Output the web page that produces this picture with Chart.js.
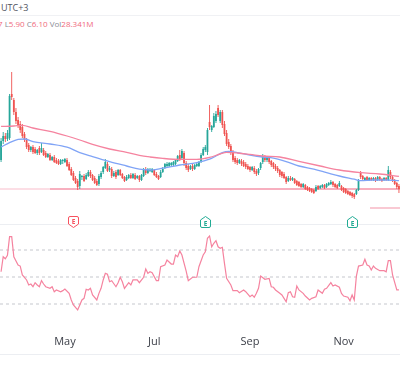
<!DOCTYPE html>
<html><head><meta charset="utf-8">
<script src="https://cdn.jsdelivr.net/npm/chart.js@4.4.1/dist/chart.umd.min.js"></script>
<style>
html,body{margin:0;padding:0;background:#fff;width:400px;height:374px;overflow:hidden;font-family:"Open Sans",Arial,sans-serif;}
#wrap{position:relative;width:400px;height:374px;overflow:hidden;}
.abs{position:absolute;}
#utc{left:1px;top:2px;font-size:9px;color:#50535e;line-height:12px;white-space:nowrap;}
#hdrLine{left:0;top:15px;width:400px;height:1px;background:#f0f1f4;}
#legend{left:-2px;top:18px;font-size:8px;line-height:11px;color:#8a8d96;white-space:nowrap;}
#legend .v{color:#f06a7c;}
#priceC{left:0;top:30px;}
#rsiC{left:0;top:224px;}
#sep{left:0;top:224px;width:400px;height:1px;background:#eceef2;}
#bottomLine{left:0;top:354px;width:400px;height:1px;background:#eceef2;}
.badge{position:absolute;width:11px;height:12px;top:211px;}
</style></head>
<body><div id="wrap">
<div id="utc" class="abs">UTC+3</div>
<div id="hdrLine" class="abs"></div>
<div id="legend" class="abs"></div>
<canvas id="priceC" class="abs" width="400" height="194"></canvas>
<canvas id="rsiC" class="abs" width="400" height="150"></canvas>
<div id="sep" class="abs"></div>
<div id="bottomLine" class="abs"></div>
<div id="badges"></div>
</div>
<script>
// ---- daily candles (price) ----
const opens = [7.55,8.50,8.75,8.60,8.65,10.85,10.55,9.95,9.55,9.35,
9.20,8.85,8.55,8.30,8.05,8.20,8.10,7.90,8.15,7.95,
8.05,7.90,7.70,7.80,7.55,7.70,7.55,7.50,7.35,7.50,
7.45,7.55,7.35,7.10,6.90,6.65,6.50,6.25,6.70,6.75,
6.60,6.75,6.95,6.80,6.65,6.50,6.35,6.70,6.95,7.15,
7.35,7.05,7.10,6.75,6.95,6.80,7.05,6.85,6.70,6.55,
6.65,6.80,6.65,6.80,6.65,6.75,6.55,6.75,7.10,6.90,
7.00,6.95,7.05,6.85,6.75,6.70,6.95,7.15,7.25,7.25,
7.30,7.30,7.35,7.50,7.80,7.65,7.90,7.40,7.25,7.10,
7.25,7.10,7.25,7.25,7.45,7.80,8.05,7.95,9.45,9.05,
9.20,9.50,10.15,9.50,9.95,9.35,8.90,8.45,8.25,7.95,
7.65,7.55,7.40,7.50,7.45,7.35,7.25,7.20,7.05,7.15,
7.00,6.90,7.15,7.45,7.70,7.55,7.65,7.50,7.40,7.25,
7.15,7.05,6.95,6.85,6.70,6.50,6.65,6.55,6.60,6.50,
6.45,6.35,6.20,6.30,6.20,6.15,6.10,6.05,6.00,6.25,
6.15,6.20,6.30,6.20,6.30,6.35,6.45,6.35,6.30,6.25,
6.25,6.15,6.10,6.00,5.95,5.90,5.85,5.85,6.05,6.90,
6.75,6.55,6.70,6.55,6.65,6.55,6.65,6.55,6.70,6.60,
6.55,6.65,6.55,6.95,6.70,6.55,6.40,6.25];
const highs = [8.65,8.95,8.90,9.05,10.85,11.95,10.65,10.15,9.70,9.50,
9.35,8.95,8.65,8.40,8.25,8.30,8.20,8.10,8.25,8.40,
8.15,8.00,7.90,7.90,7.75,7.80,7.65,7.60,7.60,7.60,
7.65,7.65,7.45,7.20,7.00,6.75,6.60,7.00,6.80,6.85,
6.90,7.05,7.05,6.85,6.75,6.60,6.85,7.00,7.25,7.60,
7.45,7.25,7.20,7.00,7.05,7.10,7.10,6.90,6.75,6.80,
6.85,6.90,6.90,6.90,6.80,6.80,6.85,7.15,7.20,7.15,
7.15,7.15,7.10,6.95,6.80,7.05,7.20,7.40,7.45,7.45,
7.45,7.50,7.60,7.80,8.05,8.10,8.00,7.50,7.35,7.30,
7.35,7.35,7.40,7.50,7.90,8.20,8.30,9.15,10.30,9.30,
9.90,10.00,10.30,10.05,10.05,9.50,9.05,8.60,8.35,8.05,
7.75,7.65,7.60,7.60,7.55,7.45,7.35,7.25,7.25,7.25,
7.10,7.15,7.45,7.85,7.80,7.75,7.75,7.55,7.45,7.35,
7.25,7.10,7.00,6.95,6.75,6.75,6.75,6.70,6.65,6.55,
6.50,6.40,6.40,6.35,6.25,6.20,6.15,6.10,6.30,6.30,
6.30,6.35,6.35,6.40,6.45,6.55,6.50,6.40,6.35,6.50,
6.30,6.20,6.15,6.05,6.00,5.95,5.90,6.10,6.60,7.00,
6.80,6.70,6.75,6.70,6.70,6.70,6.70,6.75,6.75,6.65,
6.70,6.70,7.25,7.05,6.75,6.60,6.45,6.35];
const lows = [7.45,8.35,8.45,8.50,8.55,10.55,9.80,9.35,9.15,8.90,
8.65,8.45,8.10,7.95,7.95,7.85,7.85,7.80,7.80,7.90,
7.75,7.65,7.65,7.50,7.50,7.40,7.35,7.30,7.30,7.35,
7.40,7.20,7.00,6.75,6.50,6.35,6.05,6.10,6.55,6.45,
6.55,6.70,6.65,6.50,6.35,6.25,6.25,6.60,6.85,7.10,
6.95,6.95,6.65,6.70,6.60,6.75,6.75,6.60,6.45,6.50,
6.60,6.60,6.60,6.55,6.60,6.45,6.50,6.70,6.80,6.85,
6.95,6.90,6.75,6.65,6.55,6.65,6.90,7.10,7.20,7.20,
7.25,7.25,7.30,7.45,7.50,7.60,7.25,7.05,6.95,7.05,
7.00,7.05,7.20,7.20,7.40,7.75,7.95,7.80,9.05,8.95,
9.15,9.40,9.70,9.40,9.15,8.75,8.25,8.10,7.80,7.45,
7.35,7.30,7.35,7.25,7.20,7.10,7.05,6.95,7.00,6.85,
6.75,6.80,7.05,7.35,7.45,7.45,7.35,7.20,7.10,7.00,
6.90,6.70,6.65,6.60,6.35,6.45,6.50,6.50,6.35,6.25,
6.20,6.15,6.15,6.05,6.00,5.95,5.90,5.85,5.95,6.05,
6.10,6.15,6.10,6.15,6.25,6.30,6.20,6.15,6.10,6.20,
6.00,5.90,5.85,5.80,5.75,5.65,5.60,5.80,6.00,6.60,
6.55,6.50,6.50,6.50,6.50,6.50,6.45,6.50,6.50,6.45,
6.50,6.50,6.50,6.60,6.45,6.30,6.10,5.90];
const closes = [8.50,8.75,8.60,8.90,10.75,10.70,9.95,9.50,9.25,9.05,
8.75,8.55,8.20,8.05,8.20,7.95,7.90,8.05,7.90,8.15,
7.80,7.70,7.85,7.55,7.70,7.45,7.40,7.35,7.55,7.55,
7.60,7.25,7.05,6.80,6.55,6.40,6.20,6.85,6.75,6.50,
6.80,6.95,6.75,6.55,6.40,6.30,6.75,6.90,7.20,7.45,
7.00,7.15,6.75,6.90,6.70,7.05,6.80,6.65,6.50,6.70,
6.80,6.65,6.85,6.60,6.75,6.55,6.80,7.05,6.90,7.10,
7.05,7.10,6.80,6.70,6.60,6.95,7.10,7.35,7.35,7.40,
7.40,7.45,7.55,7.75,7.60,8.00,7.40,7.15,7.05,7.25,
7.10,7.30,7.35,7.45,7.80,8.10,8.20,9.05,9.20,9.25,
9.75,9.85,9.80,9.95,9.30,8.85,8.35,8.20,7.90,7.55,
7.45,7.40,7.55,7.35,7.25,7.20,7.10,7.05,7.20,6.95,
6.85,7.10,7.40,7.75,7.55,7.65,7.45,7.30,7.20,7.10,
7.00,6.80,6.75,6.65,6.45,6.65,6.55,6.65,6.40,6.30,
6.25,6.20,6.35,6.10,6.05,6.00,5.95,5.90,6.20,6.10,
6.25,6.30,6.15,6.35,6.40,6.45,6.30,6.20,6.15,6.40,
6.05,5.95,5.90,5.85,5.80,5.75,5.70,6.05,6.55,6.70,
6.60,6.65,6.55,6.65,6.55,6.65,6.50,6.70,6.55,6.50,
6.65,6.55,7.05,6.70,6.55,6.35,6.20,6.10];
const lastVolume = '28.341M';

// ---- moving averages read at sampled days ----
const maSlowDay = [0,6,10,15,23,31,37,43,51,59,65,70,76,84,92,98,103,106,111,117,123,131,140,150,159,169,178,187];
const maSlow    = [9.23,9.25,9.28,9.15,8.98,8.75,8.55,8.33,8.10,7.93,7.78,7.70,7.63,7.58,7.58,7.68,7.85,7.93,7.90,7.83,7.75,7.70,7.48,7.25,7.05,6.92,6.85,6.73];
const maFastDay = [0,4,8,11,15,23,31,37,43,51,59,65,70,76,84,92,98,101,104,107,111,117,123,128,134,140,147,153,159,166,169,175,181,187];
const maFast    = [8.20,8.42,8.58,8.60,8.47,8.35,8.19,7.92,7.72,7.47,7.25,7.09,7.05,7.14,7.30,7.42,7.59,7.75,7.92,7.98,7.92,7.80,7.70,7.64,7.47,7.25,7.09,6.92,6.75,6.59,6.52,6.55,6.55,6.52];

// ---- horizontal levels ----
const levelPrice = [6.10, 5.15];
const levelFrom  = [23, 173.4];

// ---- earnings markers ----
const earnDay  = [34, 96, 165];
const earnType = ['down', 'up', 'up'];

// ---- RSI ----
const rsiDay = [0,1,2,3,4,5,6,8,9,10,12,13,14,15,16,17,18,19,20,21,23,24,25,26,28,29,30,32,33,34,36,37,38,39,40,41,42,43,45,46,47,48,49,50,51,52,54,55,56,57,58,60,61,62,64,65,67,68,69,70,71,73,74,75,77,78,80,81,82,83,84,85,87,88,90,92,93,95,96,97,98,99,100,101,102,103,104,105,106,108,109,111,112,114,115,117,118,119,120,121,122,124,126,127,128,129,131,132,133,134,135,136,137,138,139,140,142,143,145,146,148,149,151,152,153,155,156,157,159,160,161,163,164,165,166,167,168,170,171,172,173,174,175,176,178,180,181,182,183,184,186,187];
const rsiVal = [53.9,65.0,63.5,66.0,79.9,79.9,65.0,58.9,58.1,51.5,47.8,44.1,44.8,42.8,45.8,44.1,42.8,47.3,44.8,42.8,41.6,42.8,39.1,40.4,39.1,39.9,41.1,37.9,33.0,29.3,25.6,29.3,33.0,34.2,40.9,40.4,41.6,36.7,33.0,37.9,41.6,47.8,52.7,52.0,46.5,47.3,42.8,45.8,49.8,46.5,41.6,45.8,44.1,47.8,47.8,45.8,49.8,55.9,52.7,53.9,53.2,47.3,47.3,57.6,58.9,62.6,59.6,59.6,66.3,65.0,69.3,66.3,54.4,47.3,49.8,49.8,57.6,66.3,68.7,78.7,80.4,72.4,75.0,76.9,72.4,71.3,72.0,60.1,49.0,44.1,39.9,39.9,38.4,40.4,39.1,35.4,36.7,35.0,37.9,41.6,50.7,48.3,49.0,42.8,42.4,40.4,37.9,36.7,34.2,31.7,38.4,39.1,35.4,35.0,43.3,40.4,37.9,35.9,33.0,34.2,35.4,40.4,37.9,40.9,41.6,45.8,43.3,44.1,42.4,37.9,35.9,35.0,32.4,36.7,33.0,50.7,58.1,58.9,63.1,58.9,58.1,55.2,58.1,56.4,54.7,54.7,53.9,62.1,62.1,51.5,40.4,40.4];
const rsiBands = [70, 50, 30];

// ---- time axis ----
const monthDay    = [30, 72, 117, 161];
const monthLabels = ['May', 'Jul', 'Sep', 'Nov'];

// ---- view ranges ----
const N = closes.length;
const X_MIN = -0.5, X_MAX = N - 0.5;
const PRICE_MIN = 4.35, PRICE_MAX = 14.05;
const RSI_MIN = 8.52, RSI_MAX = 89.26;

const UP = '#26a69a', DOWN = '#ef5350';
const candleCol = closes.map((c, i) => c >= opens[i] ? UP : DOWN);
const bodies = closes.map((c, i) => ({x: i, y: [opens[i], c]}));
const wicks = closes.map((c, i) => ({x: i, y: [lows[i], highs[i]]}));
const pts = (xs, ys) => xs.map((x, k) => ({x: x, y: ys[k]}));

// legend text
const last = N - 1;
document.getElementById('legend').innerHTML =
  '<span class="v">7</span> L<span class="v">' + lows[last].toFixed(2) + '</span> C<span class="v">' +
  closes[last].toFixed(2) + '</span> Vol<span class="v">' + lastVolume + '</span>';

const levelSets = [];
levelSets.push({type:'line', data:[{x:X_MIN,y:levelPrice[0]},{x:levelFrom[0],y:levelPrice[0]}], borderColor:'#fbd3dc', borderWidth:1.5, pointRadius:0, order:3});
levelSets.push({type:'line', data:[{x:levelFrom[0],y:levelPrice[0]},{x:X_MAX,y:levelPrice[0]}], borderColor:'#f7afbf', borderWidth:2, pointRadius:0, order:3});
levelSets.push({type:'line', data:[{x:levelFrom[1],y:levelPrice[1]},{x:X_MAX,y:levelPrice[1]}], borderColor:'#f5a6b6', borderWidth:1.2, pointRadius:0, order:3});

const baseOpts = {
  responsive: false, animation: false, devicePixelRatio: 1,
  layout: {padding: 0},
  plugins: {legend: {display: false}, tooltip: {enabled: false}},
  events: []
};

const priceChart = new Chart(document.getElementById('priceC'), {
  type: 'bar',
  data: {datasets: [
    {type:'line', data: pts(maSlowDay, maSlow), borderColor:'#f5839f', borderWidth:1.3, pointRadius:0, cubicInterpolationMode:'monotone', order:0},
    {type:'line', data: pts(maFastDay, maFast), borderColor:'#80a4f6', borderWidth:1.3, pointRadius:0, cubicInterpolationMode:'monotone', order:0},
    {data: bodies, backgroundColor: candleCol, barThickness: 1.8, minBarLength: 1, grouped: false, inflateAmount: 0, borderWidth: 0, order: 1},
    {data: wicks, backgroundColor: candleCol, barThickness: 0.9, grouped: false, inflateAmount: 0, borderWidth: 0, order: 2},
    ...levelSets
  ]},
  options: Object.assign({}, baseOpts, {
    scales: {
      x: {type:'linear', min:X_MIN, max:X_MAX, offset:false, display:false},
      y: {min:PRICE_MIN, max:PRICE_MAX, display:false}
    }
  })
});

const rsiChart = new Chart(document.getElementById('rsiC'), {
  type: 'line',
  data: {datasets: [
    {data: pts(rsiDay, rsiVal), borderColor:'#f5839f', borderWidth:1.2, pointRadius:0, order:0},
    ...rsiBands.map(v => ({data:[{x:X_MIN,y:v},{x:X_MAX,y:v}], borderColor:'#c6c8cd', borderWidth:1, borderDash:[3,3], pointRadius:0, order:1}))
  ]},
  options: Object.assign({}, baseOpts, {
    scales: {
      x: {type:'linear', min:X_MIN, max:X_MAX, offset:false,
          grid:{display:false, drawTicks:false}, border:{display:false},
          ticks:{autoSkip:false, maxRotation:0, padding:2, color:'#3d4049', font:{family:'Open Sans', size:11},
                 callback:(v, i) => monthLabels[i]},
          afterBuildTicks: s => { s.ticks = monthDay.map(v => ({value: v})); },
          afterFit: s => { s.height = 41; }},
      y: {min:RSI_MIN, max:RSI_MAX, display:false}
    }
  })
});

// earnings badges
const badgeBox = document.getElementById('badges');
earnDay.forEach((d, k) => {
  const px = priceChart.scales.x.getPixelForValue(d);
  const up = earnType[k] === 'up';
  const c = up ? '#22ab94' : '#f7525f';
  const path = up
    ? 'M5.5 0.5 L10.5 4 V10 Q10.5 11.5 9 11.5 H2 Q0.5 11.5 0.5 10 V4 Z'
    : 'M2 0.5 H9 Q10.5 0.5 10.5 2 V8 L5.5 11.5 L0.5 8 V2 Q0.5 0.5 2 0.5 Z';
  const ty = up ? 9.6 : 7.6;
  const el = document.createElement('div');
  el.className = 'badge';
  el.style.left = (px - 5.5) + 'px';
  el.innerHTML = '<svg width="11" height="12" viewBox="0 0 11 12"><path d="' + path + '" fill="#fff" stroke="' + c + '" stroke-width="1"/>' +
    '<text x="5.5" y="' + ty + '" text-anchor="middle" font-family="Open Sans, Arial" font-weight="700" font-size="6.5" fill="' + c + '">E</text></svg>';
  badgeBox.appendChild(el);
});
</script>
</body></html>
